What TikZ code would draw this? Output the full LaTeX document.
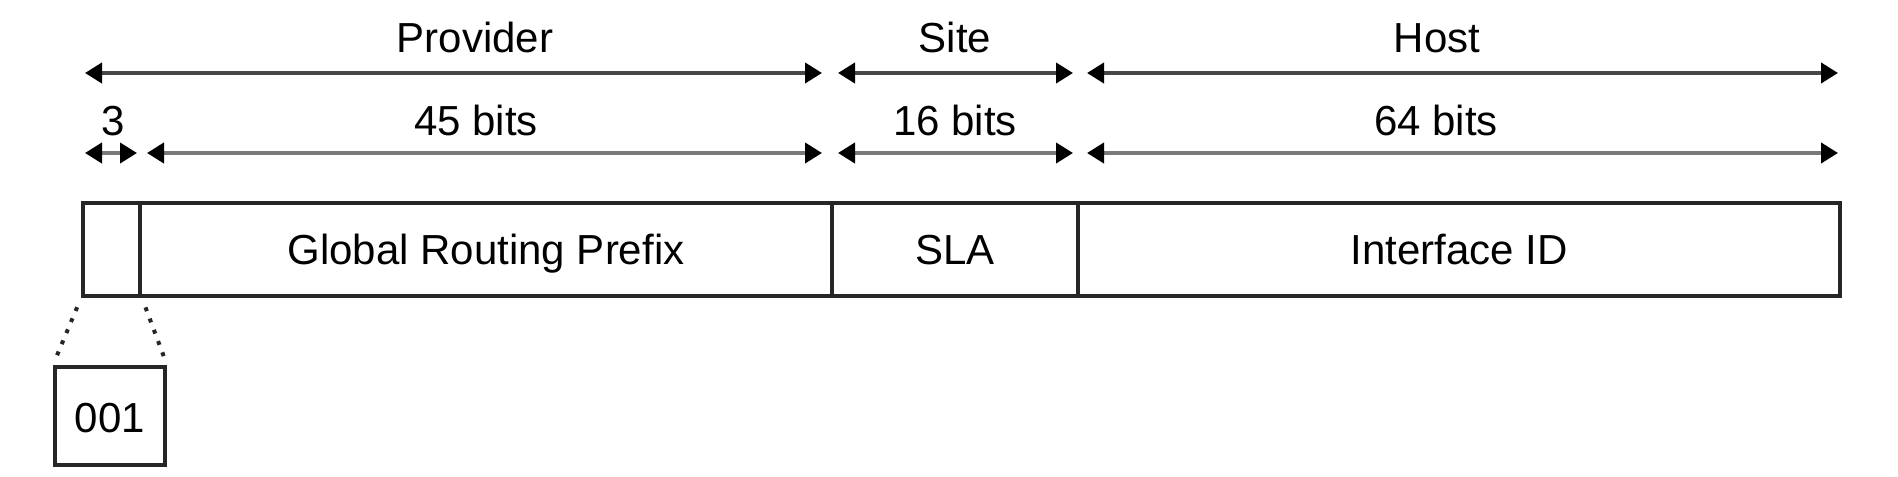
\documentclass[tikz,border=0pt]{standalone}
\usepackage{fontspec}
\setmainfont{Liberation Sans}
\usetikzlibrary{arrows.meta}

\begin{document}
\begin{tikzpicture}[
  x=0.5pt, y=-0.5pt,
  font=\fontsize{21}{25}\selectfont,
  >={Triangle[length=8.5pt, width=10pt, color=black]},
  dimtop/.style={<->, line width=2pt, draw=black!72},
  dimbit/.style={<->, line width=2pt, draw=black!52},
  lbl/.style={anchor=base, inner sep=0pt},
  field/.style={draw=black!85, line width=2pt, inner sep=0pt, minimum height=46.5pt, text height=15pt, text depth=0pt},
  zoomline/.style={line width=2pt, draw=black!85, dash pattern=on 2pt off 4pt, shorten <=5pt, shorten >=4pt}
]
\useasboundingbox (0,0) rectangle (1898,476);

\coordinate (pv0) at (85,73);
\coordinate (pv1) at (822,73);
\coordinate (st0) at (838,73);
\coordinate (st1) at (1073,73);
\coordinate (hs0) at (1087,73);
\coordinate (hs1) at (1838,73);

\coordinate (fp0) at (85,153);
\coordinate (fp1) at (137,153);
\coordinate (gr0) at (147,153);
\coordinate (gr1) at (822,153);
\coordinate (sl0) at (838,153);
\coordinate (sl1) at (1073,153);
\coordinate (id0) at (1087,153);
\coordinate (id1) at (1838,153);

\node[lbl] (provider) at (475,53) {Provider};
\node[lbl] (site) at (955,53) {Site};
\node[lbl] (host) at (1437,53) {Host};

\node[lbl] (three) at (113,135) {3};
\node[lbl] (bits45) at (476,135) {45 bits};
\node[lbl] (bits16) at (955,135) {16 bits};
\node[lbl] (bits64) at (1436,135) {64 bits};

\draw[dimtop] (pv0) -- (pv1);
\draw[dimtop] (st0) -- (st1);
\draw[dimtop] (hs0) -- (hs1);

\draw[dimbit] (fp0) -- (fp1);
\draw[dimbit] (gr0) -- (gr1);
\draw[dimbit] (sl0) -- (sl1);
\draw[dimbit] (id0) -- (id1);

\node[field, minimum width=28.5pt] (fp) at (111.5,249.5) {};
\node[field, minimum width=346pt] (grp) at (486,249.5) {Global Routing Prefix};
\node[field, minimum width=123pt] (sla) at (955,249.5) {SLA};
\node[field, minimum width=381pt] (iid) at (1459,249.5) {Interface ID};

\node[field, minimum width=55pt, minimum height=49pt, text height=16pt] (fmt) at (110,416) {001};

\draw[zoomline] (fp.south west) -- (fmt.north west);
\draw[zoomline] (fp.south east) -- (fmt.north east);
\end{tikzpicture}
\end{document}
